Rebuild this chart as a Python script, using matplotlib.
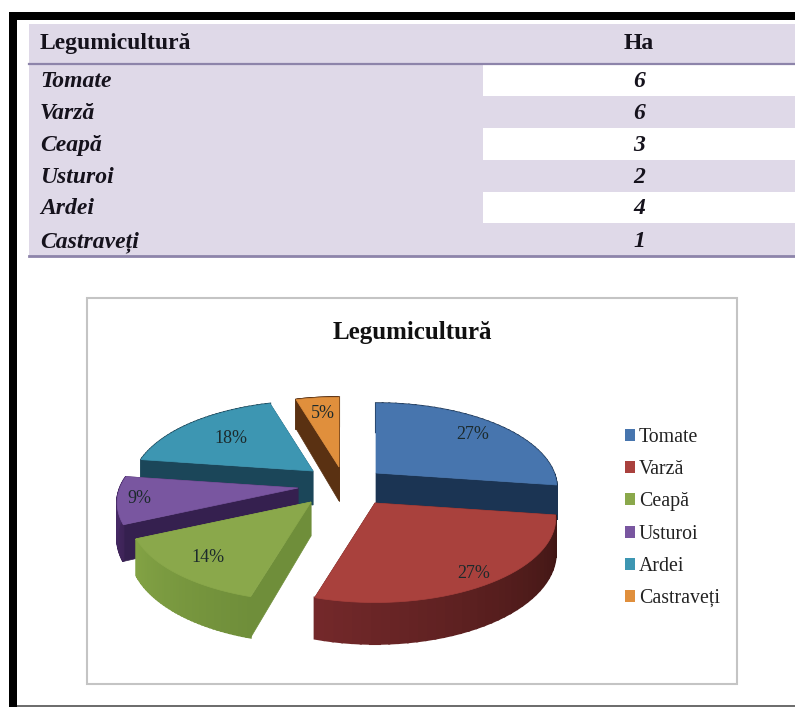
import numpy as np
import matplotlib
matplotlib.use("Agg")
import matplotlib.pyplot as plt
from matplotlib.colors import to_rgb
from matplotlib.patches import Rectangle

plt.rcParams['font.family'] = ['Liberation Serif', 'DejaVu Serif']

# data
categories = ["Tomate", "Varză", "Ceapă", "Usturoi", "Ardei", "Castraveți"]
hectares = [6, 6, 3, 2, 4, 1]
table_head = ["Legumicultură", "Ha"]
chart_title = "Legumicultură"

# slice styles
top_colors = ["#4775ae", "#a9413d", "#8aa84b", "#7956a0", "#3d96b2", "#e08f3c"]
cut_colors = ["#1b3453", "#4f1b19", "#6f8e3a", "#35204f", "#1b4659", "#5a3112"]
wall_from = ["#1b3453", "#3d1513", "#6f8e3a", "#3e2458", "#1b4659", "#5a3112"]
wall_to = ["#1b3453", "#73282a", "#82a244", "#4a2c6c", "#1b4659", "#5a3112"]

# pie layout, in pixels of the picture
CX, CY = 338, 485
RX, RY = 178, 82
PERSP = 0.176
DEPTH = 34
# how far each slice is pulled out of the pie (dx, dy)
explode = [(38, -12), (37, 18), (-27, 17), (-40, 3), (-25, -14), (1, -18)]
label_r = [0.8, 0.87, 0.77, 0.88, 0.68, 0.77]
draw_order = [0, 5, 4, 3, 2, 1]

fig = plt.figure(figsize=(7.95, 7.07), dpi=100)
ax = fig.add_axes([0, 0, 1, 1])
ax.set_xlim(0, 795)
ax.set_ylim(707, 0)
ax.axis("off")


def project(deg, r=1.0):
    a = np.radians(deg)
    u = r * np.sin(a)
    v = r * np.cos(a)
    s = 1 / (1 + PERSP * v)
    return RX * u * s, -RY * v * s, s


def mix(c1, c2, t):
    c1, c2 = np.array(to_rgb(c1)), np.array(to_rgb(c2))
    return tuple(c1 + (c2 - c1) * t)


def rect(x0, y0, x1, y1, color):
    ax.add_patch(Rectangle((x0, y0), x1 - x0, y1 - y0, fc=color, ec="none"))


# black page border
rect(9, 12, 795, 20, "#000000")
rect(9, 12, 17, 707, "#000000")
rect(17, 705, 795, 707, "#6e6e6e")

# table
LILAC = "#dfd9e8"
row_y = [64, 96, 128, 160, 192, 223, 256]
rect(29, 24, 795, 64, LILAC)
for i in range(len(categories)):
    rect(29, row_y[i], 483, row_y[i + 1], LILAC)
    rect(483, row_y[i], 795, row_y[i + 1], "#ffffff" if i % 2 == 0 else LILAC)
ax.plot([29, 795], [63.5, 63.5], color="#8d84aa", lw=1.6)
ax.plot([29, 795], [256, 256], color="#8d84aa", lw=2)

ax.text(40, 49, table_head[0], fontsize=17, fontweight="bold", va="baseline", color="#15121c")
ax.text(639, 49, table_head[1], fontsize=17, fontweight="bold", va="baseline", ha="center", color="#15121c")
for i, name in enumerate(categories):
    base = row_y[i + 1] - 9
    ax.text(40, base, name, fontsize=17, fontweight="bold", style="italic", va="baseline", color="#15121c")
    ax.text(639, base, str(hectares[i]), fontsize=17, fontweight="bold", style="italic",
            va="baseline", ha="center", color="#15121c")

# chart frame and title
ax.add_patch(Rectangle((87, 298), 650, 386, fc="white", ec="#c4c4c4", lw=1.5))
ax.text(412, 332, chart_title, fontsize=18, fontweight="bold", ha="center", va="center", color="#111111")

# 3d pie, angles run clockwise from 12 o'clock
total = sum(hectares)
ends = np.cumsum(hectares) / total * 360
starts = ends - np.array(hectares) / total * 360
for i in draw_order:
    ox = CX + explode[i][0]
    oy = CY + explode[i][1]
    angles = np.linspace(starts[i], ends[i], 40)
    xs, ys, ss = project(angles)
    xs, ys = xs + ox, ys + oy
    drop = DEPTH * ss
    # cut faces
    for k in (0, -1):
        ax.fill([ox, xs[k], xs[k], ox], [oy, ys[k], ys[k] + drop[k], oy + DEPTH],
                color=cut_colors[i], lw=0.5)
    # outer wall
    for k in range(len(angles) - 1):
        t = k / (len(angles) - 2)
        ax.fill([xs[k], xs[k + 1], xs[k + 1], xs[k]],
                [ys[k], ys[k + 1], ys[k + 1] + drop[k + 1], ys[k] + drop[k]],
                color=mix(wall_from[i], wall_to[i], t), lw=1.5)
    # top face
    ax.fill(np.r_[ox, xs], np.r_[oy, ys], color=top_colors[i], lw=0.5)

# percent labels, above all the slices
for i in range(len(hectares)):
    dx, dy, _ = project((starts[i] + ends[i]) / 2, 1.0)
    ax.text(CX + explode[i][0] + dx * label_r[i], CY + explode[i][1] + dy * label_r[i],
            "%d%%" % round(hectares[i] / total * 100), fontsize=13,
            ha="center", va="center", color="#1c2a2c")

# legend
handles = [Rectangle((0, 0), 1, 1, fc=c, ec="none") for c in top_colors]
ax.legend(handles, categories, loc="center left", bbox_to_anchor=(615, 518), bbox_transform=ax.transData,
          frameon=False, fontsize=14.3, handlelength=0.5, handleheight=0.55, handletextpad=0.2,
          labelspacing=0.66, borderpad=0, labelcolor="#222222")

fig.savefig("out.png", dpi=100)
